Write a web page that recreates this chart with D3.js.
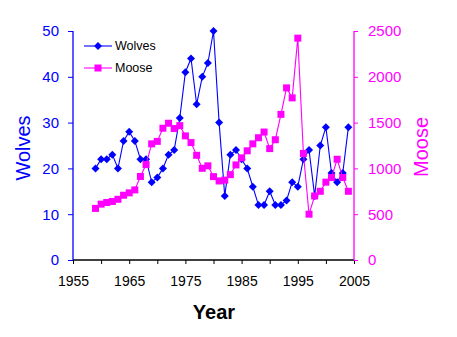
<!DOCTYPE html>
<html lang="en">

<head>
    <meta charset="UTF-8">
    <title>Wolves and moose</title>
    <script src="https://cdn.jsdelivr.net/npm/d3@7"></script>
    <style>
        body { margin: 0; background: #fff; }
        text { font-family: Arial, "Liberation Sans", sans-serif; }
    </style>
</head>

<body>
    <div id="box"></div>

    <script>
        // yearly counts
        var years = [1959, 1960, 1961, 1962, 1963, 1964, 1965, 1966, 1967, 1968, 1969,
            1970, 1971, 1972, 1973, 1974, 1975, 1976, 1977, 1978, 1979,
            1980, 1981, 1982, 1983, 1984, 1985, 1986, 1987, 1988, 1989,
            1990, 1991, 1992, 1993, 1994, 1995, 1996, 1997, 1998, 1999,
            2000, 2001, 2002, 2003, 2004];
        var wolves = [20, 22, 22, 23, 20, 26, 28, 26, 22, 22, 17,
            18, 20, 23, 24, 31, 41, 44, 34, 40, 43,
            50, 30, 14, 23, 24, 22, 20, 16, 12, 12,
            15, 12, 12, 13, 17, 16, 22, 24, 14, 25,
            29, 19, 17, 19, 29];
        var moose = [563, 610, 628, 639, 663, 707, 733, 765, 912, 1042, 1268,
            1295, 1439, 1493, 1435, 1467, 1355, 1282, 1143, 1001, 1028,
            910, 863, 872, 932, 1038, 1115, 1192, 1268, 1335, 1397,
            1216, 1313, 1590, 1879, 1770, 2422, 1163, 500, 699, 750,
            850, 900, 1100, 900, 750];
        var yearTicks = [1955, 1965, 1975, 1985, 1995, 2005];
        var wolfTicks = [0, 10, 20, 30, 40, 50];
        var mooseTicks = [0, 500, 1000, 1500, 2000, 2500];

        var blue = '#0000ff',
            pink = '#ff00ff';
        let width = 457,
            height = 337;
        let pLeft = 73, pRight = 354, pTop = 31, pBottom = 260;

        var x = d3.scaleLinear().domain([1955, 2005]).range([pLeft, pRight]);
        var yW = d3.scaleLinear().domain([0, 50]).range([pBottom, pTop]);
        var yM = d3.scaleLinear().domain([0, 2500]).range([pBottom, pTop]);

        const svg = d3.select('#box')
            .append('svg')
            .attr('width', width)
            .attr('height', height);

        // x axis: ticks every 5 years, labels every 10
        var xAxis = d3.axisBottom(x)
            .tickValues(d3.range(1955, 2006, 5))
            .tickSize(4)
            .tickFormat(d => yearTicks.includes(d) ? d : '');
        var gx = svg.append('g')
            .attr('transform', 'translate(0,' + pBottom + ')')
            .call(xAxis);
        gx.select('.domain').attr('stroke', '#000').attr('d', 'M' + pLeft + ',0H' + pRight);
        gx.selectAll('line').attr('stroke', '#000');
        gx.selectAll('text').attr('font-size', 14).attr('fill', '#000').attr('dy', '1.35em');

        // left axis (wolves)
        var gl = svg.append('g')
            .attr('transform', 'translate(' + pLeft + ',0)')
            .call(d3.axisLeft(yW).tickValues(wolfTicks).tickSize(5).tickPadding(9));
        gl.select('.domain').attr('stroke', blue).attr('d', 'M0,' + pBottom + 'V' + pTop);
        gl.selectAll('line').attr('stroke', blue);
        gl.selectAll('text').attr('font-size', 15).attr('fill', blue);

        // right axis (moose)
        var gr = svg.append('g')
            .attr('transform', 'translate(' + pRight + ',0)')
            .call(d3.axisRight(yM).tickValues(mooseTicks).tickFormat(d3.format('d'))
                .tickSize(4).tickPadding(10));
        gr.select('.domain').attr('stroke', pink).attr('d', 'M0,' + pBottom + 'V' + pTop);
        gr.selectAll('line').attr('stroke', pink);
        gr.selectAll('text').attr('font-size', 15).attr('fill', pink);

        svg.selectAll('.domain').attr('stroke-width', 1.3);

        // axis titles
        svg.append('text')
            .attr('transform', 'translate(30,148) rotate(-90)')
            .attr('text-anchor', 'middle')
            .attr('font-size', 20)
            .attr('fill', blue)
            .text('Wolves');
        svg.append('text')
            .attr('transform', 'translate(428,147) rotate(-90)')
            .attr('text-anchor', 'middle')
            .attr('font-size', 20)
            .attr('fill', pink)
            .text('Moose');
        svg.append('text')
            .attr('x', 214)
            .attr('y', 319)
            .attr('text-anchor', 'middle')
            .attr('font-size', 20)
            .attr('font-weight', 'bold')
            .text('Year');

        // diamond = square turned 45 degrees
        var diamond = d3.symbol().type(d3.symbolSquare).size(32);
        var square = d3.symbol().type(d3.symbolSquare).size(49);

        // wolves series
        var wolfData = years.map((yr, i) => [yr, wolves[i]]);
        svg.append('path')
            .datum(wolfData)
            .attr('fill', 'none')
            .attr('stroke', blue)
            .attr('stroke-width', 1.1)
            .attr('d', d3.line().x(d => x(d[0])).y(d => yW(d[1])));
        svg.selectAll('.wolf')
            .data(wolfData)
            .enter()
            .append('path')
            .attr('class', 'wolf')
            .attr('transform', d => 'translate(' + x(d[0]) + ',' + yW(d[1]) + ') rotate(45)')
            .attr('d', diamond)
            .attr('fill', blue);

        // moose series
        var mooseData = years.map((yr, i) => [yr, moose[i]]);
        svg.append('path')
            .datum(mooseData)
            .attr('fill', 'none')
            .attr('stroke', pink)
            .attr('stroke-width', 1.1)
            .attr('d', d3.line().x(d => x(d[0])).y(d => yM(d[1])));
        svg.selectAll('.moose')
            .data(mooseData)
            .enter()
            .append('path')
            .attr('class', 'moose')
            .attr('transform', d => 'translate(' + x(d[0]) + ',' + yM(d[1]) + ')')
            .attr('d', square)
            .attr('fill', pink);

        // legend
        var legend = [
            { name: 'Wolves', color: blue, sym: diamond, rot: 45, y: 46 },
            { name: 'Moose', color: pink, sym: square, rot: 0, y: 68 }
        ];
        var lg = svg.selectAll('.legend')
            .data(legend)
            .enter()
            .append('g')
            .attr('class', 'legend')
            .attr('transform', d => 'translate(84,' + d.y + ')');
        lg.append('line')
            .attr('x2', 28)
            .attr('stroke', d => d.color)
            .attr('stroke-width', 1.1);
        lg.append('path')
            .attr('transform', d => 'translate(14,0) rotate(' + d.rot + ')')
            .attr('d', d => d.sym())
            .attr('fill', d => d.color);
        lg.append('text')
            .attr('x', 31)
            .attr('dy', '0.35em')
            .attr('font-size', 12.5)
            .text(d => d.name);
    </script>
</body>

</html>
